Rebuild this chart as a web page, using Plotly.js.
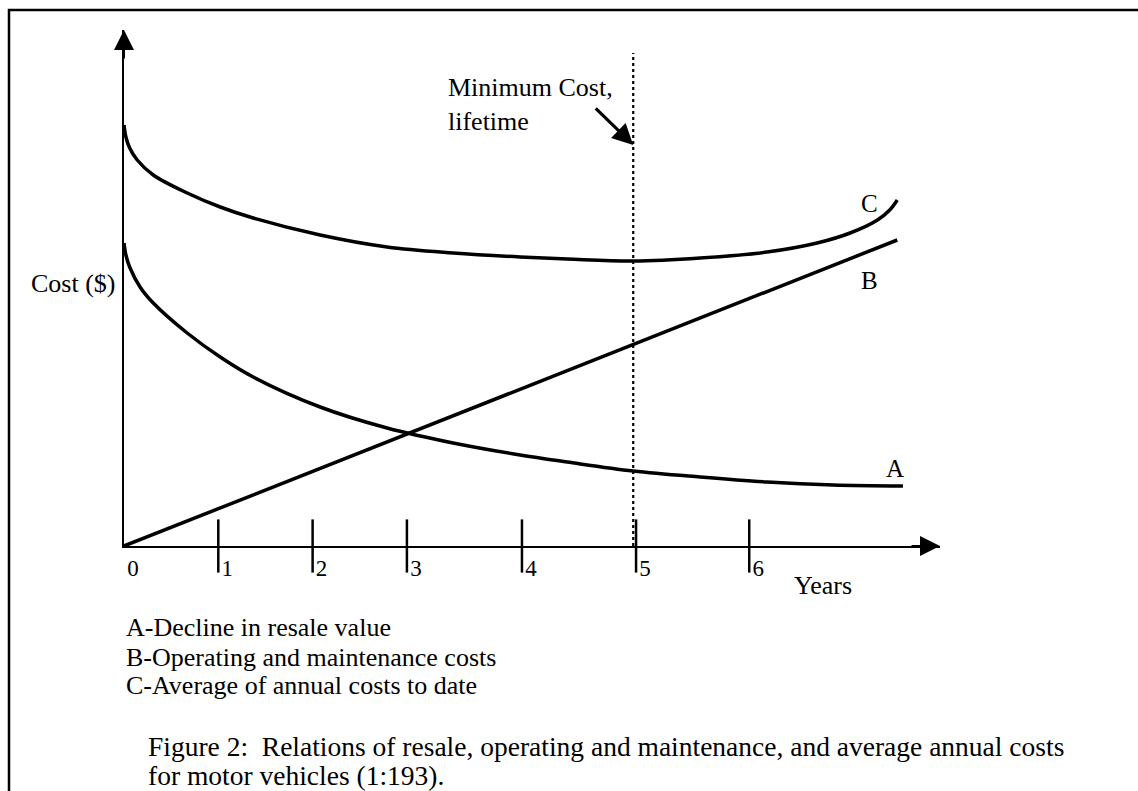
<!DOCTYPE html>
<html>
<head>
<meta charset="utf-8">
<script src="https://cdn.plot.ly/plotly-3.0.1.min.js"></script>
<style>
  html, body { margin: 0; padding: 0; background: #fff; }
  #chart { width: 1138px; height: 791px; }
</style>
</head>
<body>
<div id="chart"></div>
<script>
// ---- data (drawing units) ----
var tickLabels = ["0", "1", "2", "3", "4", "5", "6"];
var tickPos    = [0, 1, 2, 3, 4.22, 5.43, 6.63];

// C - Average of annual costs to date
var xC = [0, 0.02, 0.06, 0.14, 0.31, 0.67, 1.02, 1.37, 2.08, 2.79, 3.49, 4.2, 4.7, 5.4, 6.11, 6.82, 7.35, 7.7, 7.99, 8.12, 8.2];
var yC = [84.2, 81.8, 79.6, 77.2, 74.2, 70.6, 67.8, 65.6, 62.2, 59.8, 58.6, 57.8, 57.4, 57.0, 57.6, 58.8, 60.6, 62.6, 65.2, 67.2, 69.2];

// B - Operating and maintenance costs
var xB = [0, 8.2];
var yB = [0, 61.2];

// A - Decline in resale value
var xA = [0, 0.02, 0.06, 0.17, 0.31, 0.67, 1.02, 1.37, 2.08, 2.79, 3.49, 4.2, 4.7, 5.4, 6.11, 6.82, 7.52, 8.26];
var yA = [60.6, 58.2, 55.8, 51.8, 48.6, 42.6, 37.8, 33.8, 27.8, 23.6, 20.6, 18.2, 16.8, 15.0, 13.8, 12.8, 12.2, 12.0];

var minCostX = 5.4;
var minCostTop = 98.6;

var legendLines = [
  "A-Decline in resale value",
  "B-Operating and maintenance costs",
  "C-Average of annual costs to date"
];
var captionLines = [
  "Figure 2:  Relations of resale, operating and maintenance, and average annual costs",
  "for motor vehicles (1:193)."
];

// ---- chart ----
var FONT = "Liberation Serif, Times New Roman, serif";
var XMAX = 8.653, YMAX = 103.2;

var curveStyle = {color: "#000", width: 3.5, shape: "spline", smoothing: 1};
var markedTicks = tickPos.slice(1);

var traces = [
  {x: xC, y: yC, mode: "lines", line: curveStyle, hoverinfo: "skip", name: "C"},
  {x: xB, y: yB, mode: "lines", line: {color: "#000", width: 3.5}, hoverinfo: "skip", name: "B"},
  {x: xA, y: yA, mode: "lines", line: curveStyle, hoverinfo: "skip", name: "A"},
  {x: [minCostX, minCostX], y: [0, minCostTop], mode: "lines",
   line: {color: "#000", width: 2.2, dash: "dot"}, hoverinfo: "skip", name: "min"},
  {x: markedTicks, y: markedTicks.map(function(){ return 0; }), mode: "markers",
   marker: {symbol: "line-ns-open", size: 38, color: "#000", line: {color: "#000", width: 2.5}},
   cliponaxis: false, hoverinfo: "skip", name: "ticks"}
];

function lx(px) { return (px - 124) / 816; }
function ly(py) { return (546 - py) / 516; }

var annotations = [
  // axis arrowheads
  {x: XMAX, y: 0, xref: "x", yref: "y", text: "", showarrow: true, ax: -30, ay: 0,
   arrowhead: 2, arrowsize: 2, arrowwidth: 2, arrowcolor: "#000"},
  {x: 0, y: YMAX, xref: "x", yref: "y", text: "", showarrow: true, ax: 0, ay: 30,
   arrowhead: 2, arrowsize: 2, arrowwidth: 2, arrowcolor: "#000"},
  // minimum cost pointer
  {x: minCostX, y: 80.2, xref: "x", yref: "y", text: "", showarrow: true, ax: -39, ay: -38,
   arrowhead: 2, arrowsize: 1.3, arrowwidth: 3.2, arrowcolor: "#000"},
  {x: lx(446), y: ly(104), xref: "paper", yref: "paper", xanchor: "left", yanchor: "middle",
   align: "left", showarrow: false, text: "Minimum Cost,<br>lifetime",
   font: {family: FONT, size: 26, color: "#000"}},
  // y axis title
  {x: lx(118), y: ly(283), xref: "paper", yref: "paper", xanchor: "right", yanchor: "middle",
   showarrow: false, text: "Cost ($)", font: {family: FONT, size: 26, color: "#000"}},
  // x axis title
  {x: lx(792), y: ly(585), xref: "paper", yref: "paper", xanchor: "left", yanchor: "middle",
   showarrow: false, text: "Years", font: {family: FONT, size: 26, color: "#000"}},
  // curve letters
  {x: 7.91, y: 68.6, xref: "x", yref: "y", showarrow: false, text: "C",
   font: {family: FONT, size: 25, color: "#000"}},
  {x: 7.91, y: 53.2, xref: "x", yref: "y", showarrow: false, text: "B",
   font: {family: FONT, size: 25, color: "#000"}},
  {x: 8.18, y: 15.6, xref: "x", yref: "y", showarrow: false, text: "A",
   font: {family: FONT, size: 25, color: "#000"}}
];

var legendY = [627, 657, 685];
legendLines.forEach(function(t, i) {
  annotations.push({x: lx(124), y: ly(legendY[i]), xref: "paper", yref: "paper",
    xanchor: "left", yanchor: "middle", showarrow: false, text: t,
    font: {family: FONT, size: 26, color: "#000"}});
});
var captionY = [746, 775];
captionLines.forEach(function(t, i) {
  annotations.push({x: lx(146), y: ly(captionY[i]), xref: "paper", yref: "paper",
    xanchor: "left", yanchor: "middle", showarrow: false, text: t,
    font: {family: FONT, size: 27.5, color: "#000"}});
});

var layout = {
  width: 1138, height: 791,
  margin: {l: 124, r: 198, t: 30, b: 245, pad: 0},
  paper_bgcolor: "#fff", plot_bgcolor: "#fff",
  showlegend: false,
  xaxis: {range: [0, XMAX], showgrid: false, zeroline: false,
          showline: true, linecolor: "#000", linewidth: 2,
          ticks: "", tickvals: tickPos, ticktext: tickLabels,
          ticklabelshift: 9, ticklabelstandoff: 0,
          tickfont: {family: FONT, size: 23, color: "#000"}, fixedrange: true},
  yaxis: {range: [0, YMAX], showgrid: false, zeroline: false,
          showline: true, linecolor: "#000", linewidth: 2,
          ticks: "", showticklabels: false, fixedrange: true},
  shapes: [
    {type: "rect", xref: "paper", yref: "paper",
     x0: lx(9), x1: lx(1150), y0: ly(805), y1: ly(10),
     line: {color: "#000", width: 2.5}, fillcolor: "rgba(0,0,0,0)", layer: "below"}
  ],
  annotations: annotations
};

Plotly.newPlot("chart", traces, layout, {staticPlot: true, displayModeBar: false});
</script>
</body>
</html>
